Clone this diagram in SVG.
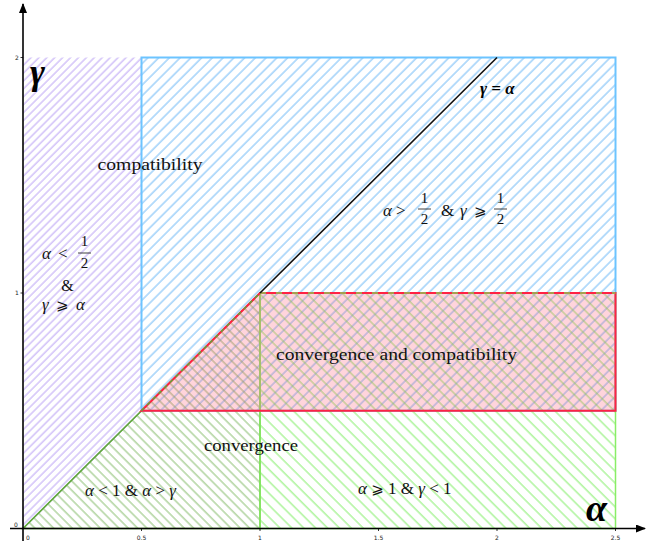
<svg xmlns="http://www.w3.org/2000/svg" width="648" height="543" viewBox="0 0 648 543">
<style>
.m{font-family:"Liberation Serif","DejaVu Serif",serif;font-style:italic;fill:#111}
.r{font-family:"Liberation Serif","DejaVu Serif",serif;fill:#111}
.tick{font-family:"DejaVu Sans",sans-serif;font-size:6px;fill:#222}
.big{font-family:"Liberation Serif","DejaVu Serif",serif;font-style:italic;font-weight:bold;fill:#000}
</style>
<defs>
<pattern id="hPurple" patternUnits="userSpaceOnUse" width="5.6" height="20" patternTransform="rotate(45)"><line x1="1" y1="0" x2="1" y2="20" stroke="#a07ef0" stroke-width="0.75"/></pattern>
<pattern id="hBlue" patternUnits="userSpaceOnUse" width="7.6" height="20" patternTransform="rotate(45)"><line x1="1" y1="0" x2="1" y2="20" stroke="#3aa0f5" stroke-width="0.75"/></pattern>
<pattern id="hDark" patternUnits="userSpaceOnUse" width="6.6" height="20" patternTransform="rotate(-45)"><line x1="1" y1="0" x2="1" y2="20" stroke="#5fa83a" stroke-width="0.75"/></pattern>
<pattern id="hLight" patternUnits="userSpaceOnUse" width="8.4" height="20" patternTransform="rotate(-45)"><line x1="1" y1="0" x2="1" y2="20" stroke="#55e633" stroke-width="0.75"/></pattern>
<marker id="arr" markerWidth="10" markerHeight="8" refX="9" refY="4" orient="auto" markerUnits="userSpaceOnUse"><path d="M0,0 L10,4 L0,8 Z" fill="#000"/></marker>
</defs>

<g id="region-purple">
<polygon points="23,528.5 141.5,410.75 141.5,57.5 23,57.5" fill="url(#hPurple)"/>
<line x1="23" y1="528.5" x2="141.5" y2="410.75" stroke="#a07ef0" stroke-width="1.5"/>
</g>
<g id="region-blue">
<rect x="141.5" y="57.5" width="474" height="353.25" fill="url(#hBlue)" stroke="#6cc4ff" stroke-width="2"/>
</g>
<g id="region-darkgreen">
<polygon points="23,528.5 260,528.5 260,293" fill="url(#hDark)" stroke="#5fb030" stroke-width="1.5"/>
</g>
<g id="region-lightgreen">
<rect x="260" y="293" width="355.5" height="235.5" fill="url(#hLight)" stroke="#88ee66" stroke-width="1.5"/>
</g>
<g id="region-red">
<polygon points="141.5,410.75 260,293 615.5,293 615.5,410.75" fill="#ff6680" fill-opacity="0.28" stroke="#ff2244" stroke-width="2"/>
<line x1="141.5" y1="410.75" x2="260" y2="293" stroke="#5fa83a" stroke-width="1.5" stroke-dasharray="4,4"/>
<line x1="260" y1="293" x2="615.5" y2="293" stroke="#88cc55" stroke-width="1.5" stroke-dasharray="6,10"/>
</g>

<g id="connectors">
<line x1="260" y1="293" x2="497" y2="57.5" stroke="#111" stroke-width="1.6"/>
<line x1="23" y1="541" x2="23" y2="4" stroke="#000" stroke-width="1.6" marker-end="url(#arr)"/>
<line x1="10" y1="528.5" x2="645" y2="528.5" stroke="#000" stroke-width="1.6" marker-end="url(#arr)"/>
<g stroke="#000" stroke-width="0.8">
<line x1="141.5" y1="528.5" x2="141.5" y2="531"/>
<line x1="260" y1="528.5" x2="260" y2="531"/>
<line x1="378.5" y1="528.5" x2="378.5" y2="531"/>
<line x1="497" y1="528.5" x2="497" y2="531"/>
<line x1="615.5" y1="528.5" x2="615.5" y2="531"/>
<line x1="20.5" y1="293" x2="23" y2="293"/>
<line x1="20.5" y1="57.5" x2="23" y2="57.5"/>
</g>
</g>

<g id="ticks">
<text class="tick" x="28" y="540" text-anchor="middle">0</text>
<text class="tick" x="141.5" y="540" text-anchor="middle">0.5</text>
<text class="tick" x="260" y="540" text-anchor="middle">1</text>
<text class="tick" x="378.5" y="540" text-anchor="middle">1.5</text>
<text class="tick" x="497" y="540" text-anchor="middle">2</text>
<text class="tick" x="615.5" y="540" text-anchor="middle">2.5</text>
<text class="tick" x="17" y="59.5" text-anchor="middle">2</text>
<text class="tick" x="17" y="295" text-anchor="middle">1</text>
<text class="tick" x="16" y="527" text-anchor="middle">0</text>
</g>

<g id="axis-labels">
<text class="big" x="30" y="84" font-size="36" font-family="DejaVu Serif">γ</text>
<text class="big" x="586" y="521" font-size="38">α</text>
<text class="big" x="480" y="94" font-size="17">γ = α</text>
</g>

<g id="label-compat">
<text class="r" x="150" y="170" font-size="16" text-anchor="middle" textLength="105" lengthAdjust="spacingAndGlyphs">compatibility</text>
</g>

<g id="label-blue">
<text class="m" x="383" y="216" font-size="17">α</text>
<text class="r" x="396" y="216" font-size="17">&gt;</text>
<text class="r" x="424.5" y="203" font-size="15" text-anchor="middle">1</text>
<line x1="418" y1="209" x2="431" y2="209" stroke="#111" stroke-width="0.8"/>
<text class="r" x="424.5" y="224" font-size="15" text-anchor="middle">2</text>
<text class="r" x="441" y="216" font-size="17">&amp;</text>
<text class="m" x="460" y="216" font-size="17">γ</text>
<text class="r" x="474" y="216" font-size="15" font-family="DejaVu Sans">⩾</text>
<text class="r" x="500.5" y="203" font-size="15" text-anchor="middle">1</text>
<line x1="494" y1="209" x2="507" y2="209" stroke="#111" stroke-width="0.8"/>
<text class="r" x="500.5" y="224" font-size="15" text-anchor="middle">2</text>
</g>

<g id="label-purple">
<text class="m" x="42" y="259" font-size="17">α</text>
<text class="r" x="58" y="259" font-size="17">&lt;</text>
<text class="r" x="84.5" y="246" font-size="15" text-anchor="middle">1</text>
<line x1="78" y1="253" x2="91" y2="253" stroke="#111" stroke-width="0.8"/>
<text class="r" x="84.5" y="268" font-size="15" text-anchor="middle">2</text>
<text class="r" x="67.5" y="291" font-size="16" text-anchor="middle">&amp;</text>
<text class="m" x="42" y="310" font-size="17">γ</text>
<text class="r" x="56" y="310" font-size="15" font-family="DejaVu Sans">⩾</text>
<text class="m" x="76" y="310" font-size="17">α</text>
</g>

<g id="label-convcompat">
<text class="r" x="396.5" y="360" font-size="16" text-anchor="middle" textLength="241" lengthAdjust="spacingAndGlyphs">convergence and compatibility</text>
</g>

<g id="label-conv">
<text class="r" x="251" y="451" font-size="16" text-anchor="middle" textLength="94" lengthAdjust="spacingAndGlyphs">convergence</text>
</g>

<g id="label-darkgreen">
<text x="85" y="496" font-size="17" class="r"><tspan font-style="italic">α</tspan> &lt; 1 &amp; <tspan font-style="italic">α</tspan> &gt; <tspan font-style="italic">γ</tspan></text>
</g>

<g id="label-lightgreen">
<text x="358" y="494" font-size="17" class="r"><tspan font-style="italic">α</tspan> <tspan font-family="DejaVu Sans" font-size="15">⩾</tspan> 1 &amp; <tspan font-style="italic">γ</tspan> &lt; 1</text>
</g>
</svg>
